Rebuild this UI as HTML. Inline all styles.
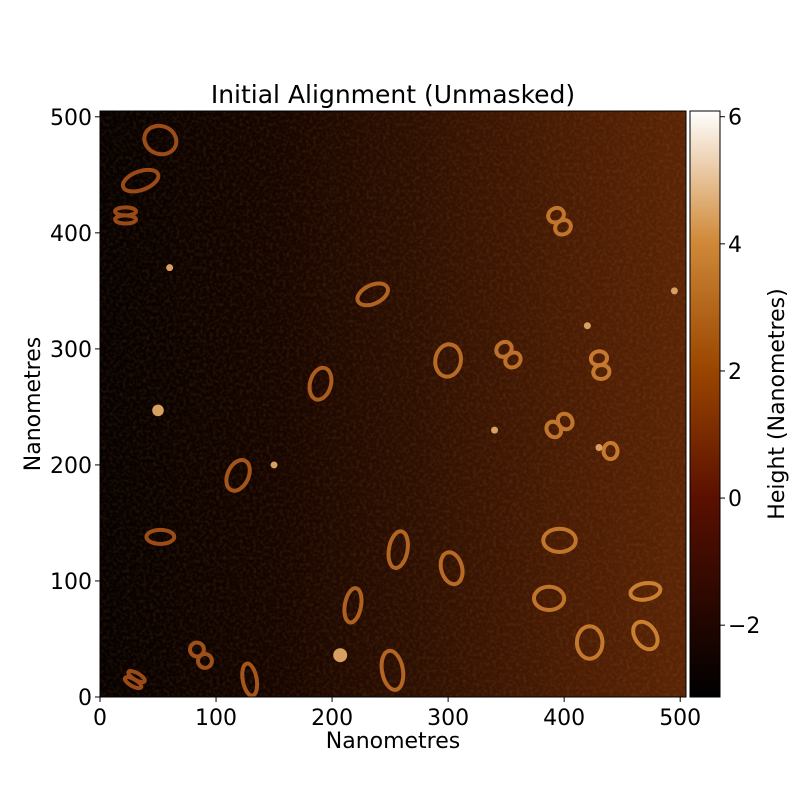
<!DOCTYPE html>
<html><head><meta charset="utf-8"><style>
body{margin:0;background:#fff;width:800px;height:800px;overflow:hidden;font-family:"DejaVu Sans","Liberation Sans",sans-serif}
text{font-family:"DejaVu Sans","Liberation Sans",sans-serif}
</style></head><body>
<svg id="chart" width="800" height="800" xmlns="http://www.w3.org/2000/svg">
<defs>
<linearGradient id="bg" x1="0" x2="1" y1="0" y2="0">
<stop offset="0" stop-color="#060100"/><stop offset="0.3" stop-color="#160500"/><stop offset="0.55" stop-color="#2e1002"/><stop offset="0.8" stop-color="#4a1c04"/><stop offset="1" stop-color="#5a2406"/>
</linearGradient>
<linearGradient id="cbv" x1="0" x2="0" y1="1" y2="0">
<stop offset="0" stop-color="#000000"/><stop offset="0.34" stop-color="#5a1000"/><stop offset="0.56" stop-color="#9a4600"/><stop offset="0.78" stop-color="#d08a3a"/><stop offset="1" stop-color="#ffffff"/>
</linearGradient>
<filter id="noise" x="0" y="0" width="100%" height="100%"><feTurbulence type="fractalNoise" baseFrequency="0.3" numOctaves="2" seed="3"/><feColorMatrix values="0 0 0 0 0.55  0 0 0 0 0.25  0 0 0 0 0.05  0 0 0 0.5 -0.2"/></filter>
<clipPath id="clip"><rect x="100" y="111" width="586" height="586"/></clipPath>
</defs>
<g id="img" clip-path="url(#clip)"></g>
<g id="axes"></g>
</svg>
<script>
const NS="http://www.w3.org/2000/svg";
// loops: [x_nm, y_nm, rx_nm, ry_nm, angle_deg, type(0 loop,1 figure-eight)]
const loopX=[52,35,22,235,190,300,352,396,431,396,440,119,52,257,303,396,387,470,422,470,218,252,129,30,87];
const loopY=[480,445,415,347,270,290,295,410,286,234,212,191,138,127,111,135,85,91,47,53,79,23,15,15,36];
const loopRx=[14,16,9,14,9,11,7,7,7,7,6,9,12,8,9,14,13,13,11,9,7,9,6,8,6];
const loopRy=[12,8,7,8,14,14,12,12,12,12,7,14,6,16,14,10,10,7,14,13,15,17,14,6,12];
const loopAng=[20,-20,0,-25,15,10,-40,-30,-10,55,0,25,0,10,-15,0,0,-10,0,-35,10,-10,-10,30,-35];
const loopType=[0,0,1,0,0,0,1,1,1,1,0,0,0,0,0,0,0,0,0,0,0,0,0,1,1];
// blobs
const blobX=[50,207,430,495,340,150,60,420];
const blobY=[247,36,215,350,230,200,370,320];
const blobR=[5,6,3,3,3,3,3,3];
const cbTicks=[-2,0,2,4,6];
const xTicks=[0,100,200,300,400,500];
const yTicks=[0,100,200,300,400,500];
const nmMax=505, vMin=-3.13, vMax=6.09;
const X0=100,Y0=697,W=586;
const sx=v=>X0+v/nmMax*W, sy=v=>Y0-v/nmMax*W, sl=v=>v/nmMax*W;
const cy=v=>697-(v-vMin)/(vMax-vMin)*586;
function el(t,a,p){const e=document.createElementNS(NS,t);for(const k in a)e.setAttribute(k,a[k]);p.appendChild(e);return e;}
function loopCol(x){const f=Math.min(1,x/nmMax);const r=Math.round(150+55*f),g=Math.round(70+60*f),b=Math.round(20+30*f);return `rgb(${r},${g},${b})`;}
const img=document.getElementById('img'),ax=document.getElementById('axes');
let r=el('rect',{x:100,y:111,width:586,height:586,fill:'url(#bg)'},img);


el('rect',{x:100,y:111,width:586,height:586,filter:'url(#noise)',opacity:0.6},img);
for(let i=0;i<loopX.length;i++){
 const g=el('g',{transform:`translate(${sx(loopX[i])},${sy(loopY[i])}) rotate(${loopAng[i]})`},img);
 
 
 const rx=sl(loopRx[i]),ry=sl(loopRy[i]),c=loopCol(loopX[i]);
 if(loopType[i]){
  el('ellipse',{cx:0,cy:-ry/2,rx:rx,ry:ry/2,fill:'none',stroke:c,'stroke-width':4},g);
  el('ellipse',{cx:0,cy:ry/2,rx:rx,ry:ry/2,fill:'none',stroke:c,'stroke-width':4},g);
 } else el('ellipse',{cx:0,cy:0,rx:rx,ry:ry,fill:'none',stroke:c,'stroke-width':4},g);
}
for(let i=0;i<blobX.length;i++){
 const c=el('circle',{cx:sx(blobX[i]),cy:sy(blobY[i]),r:sl(blobR[i]),fill:'#d8a060'},img);
 
 
}
el('rect',{x:100,y:111,width:586,height:586,fill:'none',stroke:'#000','stroke-width':1},ax);
const ts='font-size:22px;fill:#000';
for(const t of xTicks){el('line',{x1:sx(t),x2:sx(t),y1:697,y2:702,stroke:'#000'},ax);
 const tx=el('text',{x:sx(t),y:725,'text-anchor':'middle',style:ts},ax);tx.textContent=t;
 }
for(const t of yTicks){el('line',{x1:95,x2:100,y1:sy(t),y2:sy(t),stroke:'#000'},ax);
 const tx=el('text',{x:92,y:sy(t)+8,'text-anchor':'end',style:ts},ax);tx.textContent=t;
 }
const cbr=el('rect',{x:690,y:111,width:30,height:586,fill:'url(#cbv)',stroke:'#000'},ax);

for(const t of cbTicks){el('line',{x1:720,x2:725,y1:cy(t),y2:cy(t),stroke:'#000'},ax);
 const tx=el('text',{x:728,y:cy(t)+8,style:ts},ax);tx.textContent=t<0?'\u2212'+(-t):t;
 }
let t=el('text',{x:393,y:103,'text-anchor':'middle',style:'font-size:25px;fill:#000'},ax);t.textContent='Initial Alignment (Unmasked)';

t=el('text',{x:393,y:748,'text-anchor':'middle',style:ts},ax);t.textContent='Nanometres';

t=el('text',{x:0,y:0,'text-anchor':'middle',style:ts,transform:'translate(40,404) rotate(-90)'},ax);t.textContent='Nanometres';

t=el('text',{x:0,y:0,'text-anchor':'middle',style:ts,transform:'translate(784,404) rotate(-90)'},ax);t.textContent='Height (Nanometres)';

</script>
</body></html>
